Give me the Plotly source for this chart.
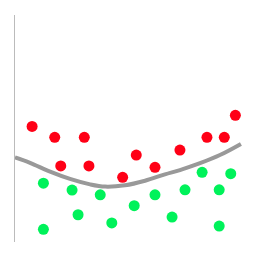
import plotly.graph_objects as go

red_x = [0.74, 1.72, 3.00, 1.98, 3.20, 4.66, 5.25, 6.06, 7.14, 8.31, 9.06, 9.54]
red_y = [5.09, 4.61, 4.61, 3.35, 3.35, 2.85, 3.83, 3.29, 4.05, 4.61, 4.61, 5.58]

green_x = [1.23, 2.47, 3.69, 2.73, 4.19, 1.23, 5.16, 6.06, 7.36, 8.10, 9.34, 8.84, 6.80, 8.84]
green_y = [2.59, 2.29, 2.08, 1.20, 0.84, 0.56, 1.60, 2.08, 2.30, 3.07, 3.01, 2.30, 1.10, 0.70]

curve_x = [0.0, 0.65, 1.52, 2.38, 3.25, 3.90, 4.76, 5.63, 6.49, 7.14, 8.01, 8.87, 9.78]
curve_y = [3.73, 3.49, 3.10, 2.78, 2.54, 2.44, 2.50, 2.70, 2.98, 3.17, 3.47, 3.83, 4.32]

fig = go.Figure()
fig.add_trace(go.Scatter(x=curve_x, y=curve_y, mode="lines",
                         line=dict(color="#999999", width=4, shape="spline"),
                         hoverinfo="skip"))
fig.add_trace(go.Scatter(x=red_x, y=red_y, mode="markers",
                         marker=dict(color="#ff0016", size=11, line=dict(width=0))))
fig.add_trace(go.Scatter(x=green_x, y=green_y, mode="markers",
                         marker=dict(color="#00f25a", size=11, line=dict(width=0))))

fig.update_layout(
    width=261, height=260,
    margin=dict(l=15, r=15, t=15, b=18),
    paper_bgcolor="white", plot_bgcolor="white",
    showlegend=False,
    xaxis=dict(range=[0, 10], showgrid=False, zeroline=False, showline=False,
               showticklabels=False, ticks=""),
    yaxis=dict(range=[0, 10], showgrid=False, zeroline=False, showline=True,
               linecolor="#bbbbbb", linewidth=1, showticklabels=False, ticks=""),
)
fig.write_html("out.html")
